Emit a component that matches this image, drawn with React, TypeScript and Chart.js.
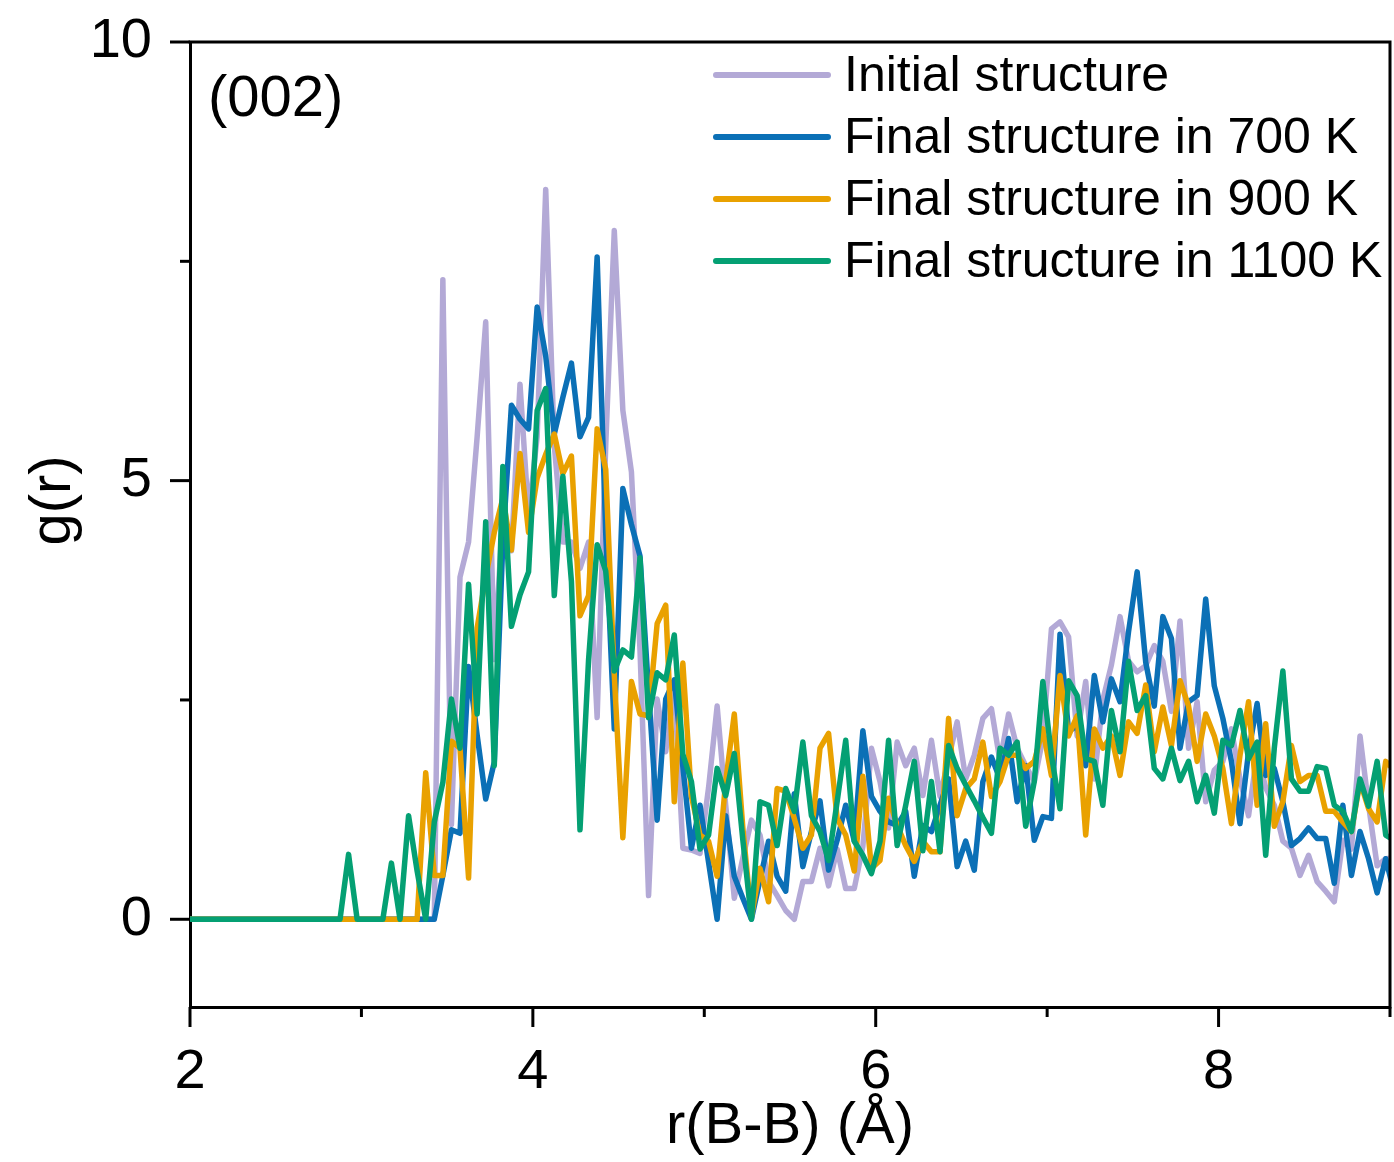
import React, { useEffect, useRef } from 'react';
import { Chart, registerables } from 'chart.js';

Chart.register(...registerables);

// r grid (bin centres, Å)
const rValues: number[] = Array.from({ length: 142 }, (_, k) => +(1.975 + 0.05 * k).toFixed(3));

const seriesLabels = [
  'Initial structure',
  'Final structure in 700 K',
  'Final structure in 900 K',
  'Final structure in 1100 K',
];
const seriesColors = ['#B3A9D6', '#0B70B6', '#E9A100', '#04A073'];

const initialG = [
  0, 0, 0, 0, 0, 0, 0, 0, 0, 0, 0, 0, 0, 0, 0, 0, 0, 0, 0, 0, 0, 0, 0, 0, 0, 0, 0, 0, 0, 0,
  7.29, 1.08, 3.9, 4.3, 5.5, 6.81, 2.96, 4.63, 4.2, 6.1,
  4.6, 5.5, 8.32, 5.4, 4.3, 4.3, 4.0, 4.3, 2.3, 5.4,
  7.85, 5.8, 5.1, 3.07, 0.27, 2.51, 1.91, 2.68, 0.81, 0.79,
  0.75, 1.5, 2.43, 1.3, 0.24, 0.7, 1.13, 0.96, 0.43, 0.27,
  0.1, 0, 0.43, 0.43, 0.81, 0.38, 0.8, 0.35, 0.35, 0.83,
  1.95, 1.57, 1.04, 2.02, 1.75, 1.95, 1.41, 2.04, 1.4, 1.83,
  2.25, 1.6, 1.87, 2.29, 2.4, 1.8, 2.34, 1.95, 1.75, 1.57,
  2.06, 3.31, 3.39, 3.22, 2.09, 2.71, 1.6, 2.5, 2.9, 3.45,
  2.94, 2.82, 2.89, 3.12, 2.94, 2.37, 3.4, 1.95, 2.48, 1.34,
  1.7, 1.8, 2.17, 1.6, 1.18, 1.9, 1.5, 1.3, 0.89, 0.81,
  0.5, 0.73, 0.43, 0.32, 0.2, 0.9, 0.8, 2.09, 1.3, 0.61,
  0.69, 0.7,
];

const final700G = [
  0, 0, 0, 0, 0, 0, 0, 0, 0, 0, 0, 0, 0, 0, 0, 0, 0, 0, 0, 0, 0, 0, 0, 0, 0, 0, 0, 0, 0, 0,
  0.5, 1.02, 0.98, 2.88, 2.1, 1.37, 1.79, 4.3, 5.86, 5.7,
  5.59, 6.98, 6.42, 5.53, 5.95, 6.34, 5.5, 5.72, 7.55, 4.4,
  2.17, 4.91, 4.5, 4.14, 2.6, 1.13, 2.51, 2.73, 1.74, 0.81,
  1.3, 0.65, 0, 1.18, 0.49, 0.24, 0, 0.45, 0.89, 0.49,
  0.32, 1.43, 0.6, 1.0, 1.35, 0.56, 0.9, 1.3, 0.89, 2.15,
  1.4, 1.23, 1.11, 1.07, 1.23, 0.49, 1.07, 1.0, 1.3, 1.6,
  0.6, 0.89, 0.56, 1.57, 1.85, 1.6, 2.06, 1.34, 1.75, 0.9,
  1.17, 1.15, 3.25, 2.14, 2.21, 1.75, 2.78, 2.25, 2.74, 2.48,
  3.28, 3.96, 2.93, 2.43, 3.45, 3.2, 1.95, 2.48, 2.55, 3.65,
  2.66, 2.29, 1.8, 1.09, 1.91, 2.46, 1.64, 1.72, 1.34, 0.84,
  0.92, 1.04, 0.92, 0.92, 0.41, 1.3, 0.5, 1.0, 0.69, 0.3,
  0.69, 0.3,
];

const final900G = [
  0, 0, 0, 0, 0, 0, 0, 0, 0, 0, 0, 0, 0, 0, 0, 0, 0, 0, 0, 0, 0, 0, 0, 0, 0, 0, 0, 0,
  1.67, 0.5,
  0.5, 2.03, 1.95, 0.47, 3.32, 3.9, 4.41, 4.8, 4.21, 5.31,
  4.41, 5.03, 5.3, 5.53, 5.08, 5.28, 3.46, 3.69, 5.59, 5.13,
  2.78, 0.93, 2.71, 2.34, 2.32, 3.37, 3.58, 1.34, 2.92, 1.4,
  0.96, 0.89, 0.49, 1.57, 2.34, 1.04, 0.03, 0.58, 0.2, 1.49,
  1.46, 1.15, 0.81, 0.96, 1.95, 2.12, 1.15, 0.96, 0.55, 1.63,
  0.58, 0.67, 1.38, 1.07, 0.84, 0.66, 0.89, 0.77, 0.77, 2.29,
  1.18, 1.49, 1.6, 2.02, 1.4, 1.57, 1.87, 1.87, 1.72, 1.8,
  2.17, 1.64, 2.78, 2.09, 2.32, 0.96, 2.17, 1.95, 2.09, 1.64,
  2.25, 2.12, 2.67, 1.91, 2.42, 1.98, 2.72, 2.43, 1.8, 2.34,
  2.09, 1.72, 1.09, 1.87, 2.48, 1.3, 2.23, 1.06, 1.34, 1.98,
  1.57, 1.64, 1.64, 1.23, 1.23, 1.11, 1.0, 1.57, 1.26, 1.11,
  1.8, 1.7,
];

const final1100G = [
  0, 0, 0, 0, 0, 0, 0, 0, 0, 0, 0, 0, 0, 0, 0, 0, 0, 0, 0,
  0.74, 0, 0, 0, 0, 0.64, 0, 1.18, 0.55, 0,
  1.11, 1.56, 2.51, 1.95, 3.82, 2.34, 4.53, 1.75, 5.16, 3.34,
  3.7, 3.96, 5.8, 6.05, 3.69, 5.05, 3.85, 1.02, 2.96, 4.27,
  3.97, 2.83, 3.07, 2.99, 4.12, 2.3, 2.81, 2.73, 3.24, 1.88,
  1.57, 0.8, 0.96, 1.72, 1.41, 1.89, 0.9, 0, 1.34, 1.3,
  0.84, 1.49, 1.23, 2.02, 1.18, 1.0, 0.67, 1.34, 2.04, 0.89,
  0.73, 0.52, 0.89, 2.04, 0.84, 1.3, 1.8, 0.78, 1.57, 0.77,
  1.98, 1.72, 1.53, 1.35, 1.16, 0.98, 1.95, 1.87, 2.02, 1.06,
  1.57, 2.71, 1.87, 1.26, 2.72, 2.55, 1.83, 1.8, 1.3, 2.38,
  1.91, 2.94, 2.38, 2.55, 1.72, 1.6, 1.95, 1.58, 1.8, 1.34,
  1.64, 1.21, 2.04, 1.98, 2.38, 1.83, 2.02, 0.73, 1.95, 2.83,
  1.6, 1.46, 1.46, 1.74, 1.72, 1.3, 1.23, 1.0, 1.6, 1.29,
  1.8, 0.96, 0.9,
];

const seriesValues = [initialG, final700G, final900G, final1100G];

const xMajorTicks = [2, 4, 6, 8];
const xMinorTicks = [3, 5, 7, 9];
const yMajorTicks = [0, 5, 10];
const yMinorTicks = [2.5, 7.5];
const panelLabel = '(002)';
const xTitle = 'r(B-B) (Å)';
const yTitle = 'g(r)';

const FONT = '"Liberation Sans", Arial, Helvetica, sans-serif';

const decorPlugin = {
  id: 'decor',
  afterDraw(chart: any) {
    const { ctx, chartArea: a, scales } = chart;
    const xs = scales.x;
    const ys = scales.y;
    ctx.save();
    ctx.strokeStyle = '#000';
    ctx.lineWidth = 3;
    ctx.lineCap = 'butt';
    // top and right frame
    ctx.beginPath();
    ctx.moveTo(a.left - 1.5, a.top);
    ctx.lineTo(a.right, a.top);
    ctx.lineTo(a.right, a.bottom + 1.5);
    ctx.stroke();
    const seg = (x1: number, y1: number, x2: number, y2: number) => {
      ctx.beginPath();
      ctx.moveTo(x1, y1);
      ctx.lineTo(x2, y2);
      ctx.stroke();
    };
    xMajorTicks.forEach((v) => {
      const p = xs.getPixelForValue(v);
      seg(p, a.bottom, p, a.bottom + 20);
    });
    xMinorTicks.forEach((v) => {
      const p = xs.getPixelForValue(v);
      seg(p, a.bottom, p, a.bottom + 10);
    });
    yMajorTicks.forEach((v) => {
      const p = ys.getPixelForValue(v);
      seg(a.left - 20, p, a.left, p);
    });
    yMinorTicks.forEach((v) => {
      const p = ys.getPixelForValue(v);
      seg(a.left - 10, p, a.left, p);
    });
    // y title (rotated), slightly above the plot centre as in the original
    ctx.fillStyle = '#000';
    ctx.save();
    ctx.translate(54, (a.top + a.bottom) / 2 - 24);
    ctx.rotate(-Math.PI / 2);
    ctx.font = `58px ${FONT}`;
    ctx.textAlign = 'center';
    ctx.textBaseline = 'middle';
    ctx.fillText(yTitle, 0, 0);
    ctx.restore();
    // panel label
    ctx.font = `58px ${FONT}`;
    ctx.textAlign = 'left';
    ctx.textBaseline = 'middle';
    ctx.fillText(panelLabel, a.left + 18, a.top + 58);
    // legend
    const lx = a.left + 526;
    const ly = a.top + 33;
    ctx.font = `50px ${FONT}`;
    chart.data.datasets.forEach((ds: any, i: number) => {
      const y = ly + i * 62;
      ctx.strokeStyle = ds.borderColor;
      ctx.lineWidth = 6;
      ctx.lineCap = 'round';
      seg(lx, y, lx + 112, y);
      ctx.fillStyle = '#000';
      ctx.fillText(ds.label, lx + 128, y + 2);
    });
    ctx.restore();
  },
};

export default function App() {
  const ref = useRef<HTMLCanvasElement | null>(null);
  useEffect(() => {
    document.body.style.margin = '0';
    if (!ref.current) return;
    const datasets = seriesLabels.map((label, i) => ({
      label,
      data: rValues.map((r, k) => ({ x: r, y: seriesValues[i][k] })),
      borderColor: seriesColors[i],
      backgroundColor: seriesColors[i],
      borderWidth: 5.5,
      borderJoinStyle: 'round' as const,
      pointRadius: 0,
      tension: 0,
      fill: false,
      order: 4 - i,
    }));
    const chart = new Chart(ref.current, {
      type: 'line',
      data: { datasets },
      plugins: [decorPlugin],
      options: {
        animation: false,
        responsive: false,
        maintainAspectRatio: false,
        layout: { padding: { top: 42, right: 4, left: 0, bottom: 0 } },
        plugins: { legend: { display: false }, tooltip: { enabled: false } },
        scales: {
          x: {
            type: 'linear',
            min: 2,
            max: 9,
            grid: { display: false },
            border: { display: true, color: '#000', width: 3 },
            afterBuildTicks: (s: any) => {
              s.ticks = xMajorTicks.map((v) => ({ value: v }));
            },
            afterFit: (s: any) => {
              s.height = 155;
              s.paddingLeft = 0;
              s.paddingRight = 0;
            },
            ticks: {
              color: '#000',
              padding: 24,
              maxRotation: 0,
              font: { family: FONT, size: 56 },
              callback: (v: any) => String(v),
            },
            title: {
              display: true,
              text: xTitle,
              color: '#000',
              font: { family: FONT, size: 58 },
              padding: { top: 0, bottom: 0 },
            },
          },
          y: {
            type: 'linear',
            min: -1,
            max: 10,
            grid: { display: false },
            border: { display: true, color: '#000', width: 3 },
            afterBuildTicks: (s: any) => {
              s.ticks = yMajorTicks.map((v) => ({ value: v }));
            },
            afterFit: (s: any) => {
              s.width = 190;
              s.paddingTop = 0;
              s.paddingBottom = 0;
            },
            ticks: {
              color: '#000',
              padding: 30,
              font: { family: FONT, size: 56 },
              callback: (v: any) => String(v),
            },
            title: { display: false },
          },
        },
      },
    });
    return () => chart.destroy();
  }, []);
  return (
    <div style={{ position: 'absolute', left: 0, top: 0, width: 1394, height: 1162, background: '#fff' }}>
      <canvas ref={ref} width={1394} height={1162} style={{ width: 1394, height: 1162 }} />
    </div>
  );
}
